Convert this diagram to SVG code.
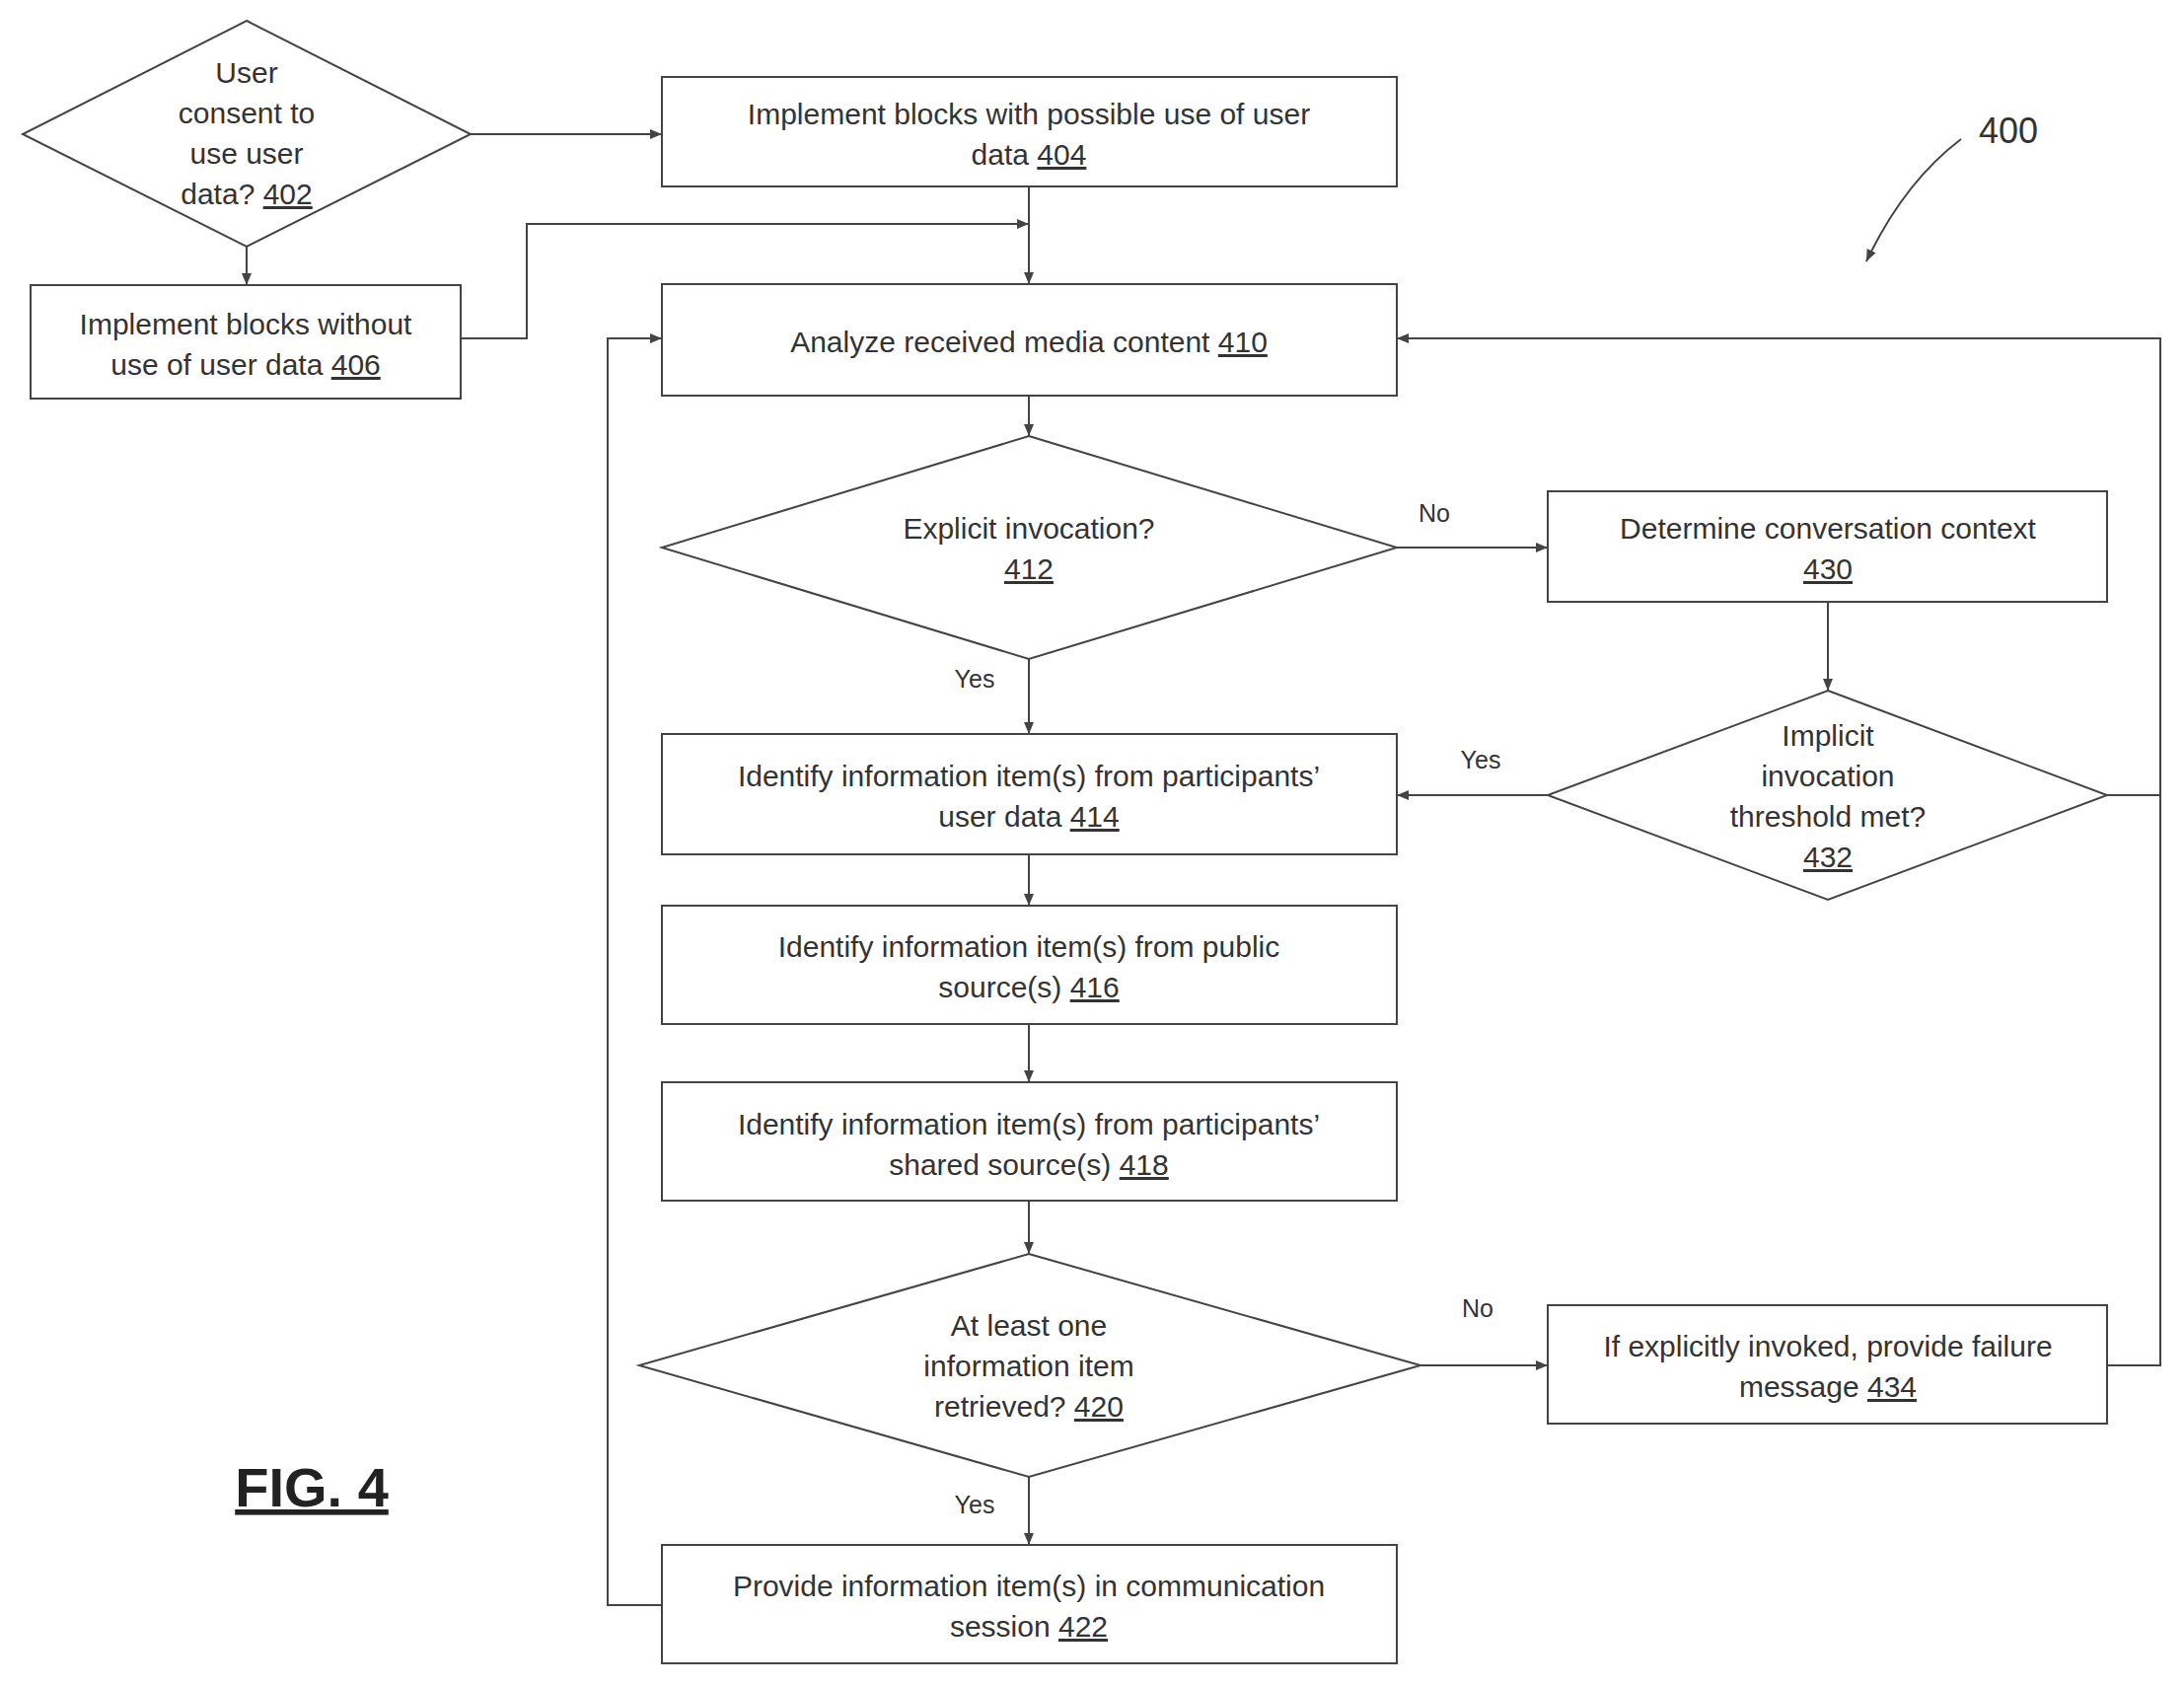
<svg xmlns="http://www.w3.org/2000/svg" width="2214" height="1710" viewBox="0 0 2214 1710">
<style>
.s{fill:#fff;stroke:#444;stroke-width:2}
.t{font-family:"Liberation Sans",Arial,sans-serif;font-size:30px;fill:#333;text-anchor:middle}
.l{font-family:"Liberation Sans",Arial,sans-serif;font-size:25px;fill:#333;text-anchor:middle}
.c{fill:none;stroke:#444;stroke-width:2;marker-end:url(#a)}
u{}
</style>
<defs><marker id="a" markerWidth="12" markerHeight="10" refX="12" refY="5" orient="auto" markerUnits="userSpaceOnUse"><path d="M0,0 L12,5 L0,10 z" fill="#444"/></marker></defs>
<rect width="2214" height="1710" fill="#fff"/>
<g id="connectors">
<path class="c" d="M477,136 H671"/>
<path class="c" d="M250,250 V289"/>
<path class="c" d="M1043,189 V288"/>
<path class="c" d="M467,343 H534 V227 H1043"/>
<path class="c" d="M1043,401 V442"/>
<path class="c" d="M1416,555 H1569"/>
<path class="c" d="M1853,610 V700"/>
<path class="c" d="M1569,806 H1416"/>
<path class="c" d="M1043,668 V744"/>
<path class="c" d="M1043,866 V918"/>
<path class="c" d="M1043,1038 V1097"/>
<path class="c" d="M1043,1217 V1271"/>
<path class="c" d="M1440,1384 H1569"/>
<path class="c" d="M1043,1497 V1566"/>
<path class="c" d="M2136,806 H2190 V343 H1416"/>
<path fill="none" stroke="#444" stroke-width="2" d="M2136,1384 H2190 V806"/>
<path class="c" d="M671,1627 H616 V343 H671"/>
<path class="c" d="M1988,141 Q1930,185 1892,265"/>
<text class="l" x="1454" y="529">No</text>
<text class="l" x="988" y="697">Yes</text>
<text class="l" x="1501" y="779">Yes</text>
<text class="l" x="1498" y="1335">No</text>
<text class="l" x="988" y="1534">Yes</text>
</g>
<g id="n402"><path class="s" d="M250,21 L477,136 L250,250 L23,136 z"/><text class="t" x="250" y="84">User</text><text class="t" x="250" y="125">consent to</text><text class="t" x="250" y="166">use user</text><text class="t" x="250" y="207">data? <tspan text-decoration="underline">402</tspan></text></g>
<g id="n404"><rect class="s" x="671" y="78" width="745" height="111"/><text class="t" x="1043" y="126">Implement blocks with possible use of user</text><text class="t" x="1043" y="167">data <tspan text-decoration="underline">404</tspan></text></g>
<g id="n406"><rect class="s" x="31" y="289" width="436" height="115"/><text class="t" x="249" y="339">Implement blocks without</text><text class="t" x="249" y="380">use of user data <tspan text-decoration="underline">406</tspan></text></g>
<g id="n410"><rect class="s" x="671" y="288" width="745" height="113"/><text class="t" x="1043" y="357">Analyze received media content <tspan text-decoration="underline">410</tspan></text></g>
<g id="n412"><path class="s" d="M1043,442 L1416,555 L1043,668 L671,555 z"/><text class="t" x="1043" y="546">Explicit invocation?</text><text class="t" x="1043" y="587" text-decoration="underline">412</text></g>
<g id="n430"><rect class="s" x="1569" y="498" width="567" height="112"/><text class="t" x="1853" y="546">Determine conversation context</text><text class="t" x="1853" y="587" text-decoration="underline">430</text></g>
<g id="n432"><path class="s" d="M1853,700 L2136,806 L1853,912 L1569,806 z"/><text class="t" x="1853" y="756">Implicit</text><text class="t" x="1853" y="797">invocation</text><text class="t" x="1853" y="838">threshold met?</text><text class="t" x="1853" y="879" text-decoration="underline">432</text></g>
<g id="n414"><rect class="s" x="671" y="744" width="745" height="122"/><text class="t" x="1043" y="797">Identify information item(s) from participants’</text><text class="t" x="1043" y="838">user data <tspan text-decoration="underline">414</tspan></text></g>
<g id="n416"><rect class="s" x="671" y="918" width="745" height="120"/><text class="t" x="1043" y="970">Identify information item(s) from public</text><text class="t" x="1043" y="1011">source(s) <tspan text-decoration="underline">416</tspan></text></g>
<g id="n418"><rect class="s" x="671" y="1097" width="745" height="120"/><text class="t" x="1043" y="1150">Identify information item(s) from participants’</text><text class="t" x="1043" y="1191">shared source(s) <tspan text-decoration="underline">418</tspan></text></g>
<g id="n420"><path class="s" d="M1043,1271 L1440,1384 L1043,1497 L648,1384 z"/><text class="t" x="1043" y="1354">At least one</text><text class="t" x="1043" y="1395">information item</text><text class="t" x="1043" y="1436">retrieved? <tspan text-decoration="underline">420</tspan></text></g>
<g id="n434"><rect class="s" x="1569" y="1323" width="567" height="120"/><text class="t" x="1853" y="1375">If explicitly invoked, provide failure</text><text class="t" x="1853" y="1416">message <tspan text-decoration="underline">434</tspan></text></g>
<g id="n422"><rect class="s" x="671" y="1566" width="745" height="120"/><text class="t" x="1043" y="1618">Provide information item(s) in communication</text><text class="t" x="1043" y="1659">session <tspan text-decoration="underline">422</tspan></text></g>
<text x="2036" y="145" font-family="Liberation Sans,Arial,sans-serif" font-size="36" fill="#333" text-anchor="middle">400</text>
<text x="316" y="1527" font-family="Liberation Sans,Arial,sans-serif" font-size="56" font-weight="bold" fill="#222" text-anchor="middle" text-decoration="underline">FIG. 4</text>
</svg>
